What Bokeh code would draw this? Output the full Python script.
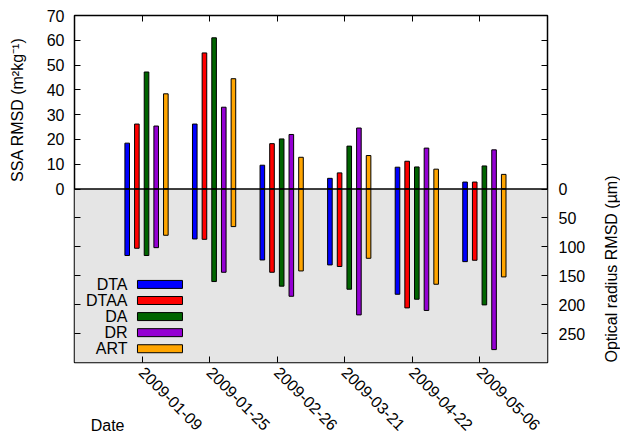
import numpy as np
from bokeh.plotting import figure
from bokeh.models import (Range1d, LinearAxis, FixedTicker, CustomJSTickFormatter,
                          Span, ColumnDataSource)
from bokeh.core.properties import value
from bokeh.embed import file_html
from bokeh.resources import INLINE

# Retrieval dates and method names
dates = ["2009-01-09", "2009-01-25", "2009-02-26", "2009-03-21", "2009-04-22", "2009-05-06"]
methods = ["DTA", "DTAA", "DA", "DR", "ART"]
colors = ["#0000ff", "#ff0000", "#006400", "#9400d3", "#ffa500"]

# SSA RMSD (m2 kg-1), one list per method
ssa_dta = [18.5, 26.2, 9.6, 4.3, 8.8, 2.8]
ssa_dtaa = [26.2, 54.9, 18.3, 6.5, 11.2, 2.8]
ssa_da = [47.2, 61.0, 20.2, 17.3, 8.9, 9.3]
ssa_dr = [25.4, 33.0, 22.0, 24.6, 16.5, 15.8]
ssa_art = [38.4, 44.5, 12.8, 13.5, 8.0, 5.9]

# Optical radius RMSD (um), one list per method
rad_dta = [115.0, 86.4, 122.7, 131.3, 182.0, 125.6]
rad_dtaa = [102.5, 87.0, 144.0, 134.0, 205.6, 123.2]
rad_da = [115.0, 160.0, 168.0, 173.3, 190.6, 200.4]
rad_dr = [101.4, 144.0, 185.5, 217.7, 210.0, 277.7]
rad_art = [80.0, 65.0, 141.7, 119.8, 164.7, 152.0]

ssa_all = [ssa_dta, ssa_dtaa, ssa_da, ssa_dr, ssa_art]
rad_all = [rad_dta, rad_dtaa, rad_da, rad_dr, rad_art]

SSA_MAX = 70
RAD_MAX = 300
FONT = "Liberation Sans"
FS = "16px"

p = figure(frame_width=473, frame_height=347, output_backend="svg", toolbar_location=None,
           x_range=Range1d(0, len(dates) + 1), y_range=Range1d(-SSA_MAX, SSA_MAX),
           min_border_left=74, min_border_right=0, min_border_top=15, min_border_bottom=75)
p.extra_y_ranges = {"radius": Range1d(RAD_MAX, -RAD_MAX)}
p.xgrid.visible = False
p.ygrid.visible = False
p.outline_line_color = "black"
p.outline_line_width = 1.5
p.background_fill_color = "white"
p.border_fill_color = "white"

# shaded lower half for the radius panel
p.quad(left=[0], right=[len(dates) + 1], bottom=[0], top=[RAD_MAX],
       y_range_name="radius", fill_color="#e5e5e5", line_color=None)

xpos = np.arange(1, len(dates) + 1)
step = 0.143
first = -0.22
bar_w = 0.068
for k, (name, col) in enumerate(zip(methods, colors)):
    src = ColumnDataSource(dict(x=xpos + first + k * step, ssa=ssa_all[k], rad=rad_all[k]))
    p.vbar(x="x", top="ssa", bottom=0, width=bar_w, source=src,
           fill_color=col, line_color="black", line_width=1)
    p.vbar(x="x", top=0, bottom="rad", width=bar_w, source=src, y_range_name="radius",
           fill_color=col, line_color="black", line_width=1)

p.add_layout(Span(location=0, dimension="width", line_color="black", line_width=1.5))

# legend drawn label-first
LEG_TX = 0.785
LEG_X0, LEG_X1 = 0.932, 1.598
LEG_Y0, LEG_DY, LEG_H = 165.0, 27.8, 13.8
leg_y = [LEG_Y0 + i * LEG_DY for i in range(len(methods))]
p.text(x=[LEG_TX] * len(methods), y=leg_y, text=methods, y_range_name="radius",
       text_align="right", text_baseline="middle", text_font=value(FONT),
       text_font_size=FS, text_color="black")
p.quad(left=LEG_X0, right=LEG_X1, bottom=[y + LEG_H / 2 for y in leg_y],
       top=[y - LEG_H / 2 for y in leg_y], y_range_name="radius",
       fill_color=colors, line_color="black", line_width=1)

def style(ax):
    ax.axis_line_color = None
    ax.major_tick_in = 6
    ax.major_tick_out = 0
    ax.minor_tick_in = 0
    ax.minor_tick_out = 0
    ax.major_tick_line_color = "black"
    ax.major_tick_line_width = 1
    ax.major_label_text_font = FONT
    ax.major_label_text_font_size = FS
    ax.major_label_text_color = "black"

def title_axis(ax, text, at, standoff, orientation):
    # an axis whose single tick label serves as the axis title
    style(ax)
    ax.ticker = FixedTicker(ticks=[at])
    ax.formatter = CustomJSTickFormatter(code="return %r;" % text)
    ax.major_tick_in = 0
    ax.major_tick_line_color = None
    ax.major_label_standoff = standoff
    ax.major_label_orientation = orientation

ssa_ticks = list(range(0, SSA_MAX + 1, 10))
rad_ticks = list(range(0, RAD_MAX, 50))
blank_neg = "return tick < -1e-6 ? '' : tick.toFixed(0);"

# left axis: SSA labels on top half, bare ticks on lower half
yl = p.yaxis[0]
style(yl)
yl.ticker = FixedTicker(ticks=ssa_ticks + [-r * SSA_MAX / RAD_MAX for r in rad_ticks[1:]])
yl.formatter = CustomJSTickFormatter(code=blank_neg)
yl.major_label_standoff = 10

yl_title = LinearAxis()
title_axis(yl_title, "SSA RMSD (m\u00b2kg\u207b\u00b9)", 32, 17, "vertical")
p.add_layout(yl_title, "left")

# right axis: radius labels on lower half, bare ticks on upper half
yr = LinearAxis(y_range_name="radius")
style(yr)
yr.ticker = FixedTicker(ticks=rad_ticks + [-s * RAD_MAX / SSA_MAX for s in ssa_ticks[1:-1]])
yr.formatter = CustomJSTickFormatter(code=blank_neg)
yr.major_label_standoff = 11
p.add_layout(yr, "right")

yr_title = LinearAxis(y_range_name="radius")
title_axis(yr_title, "Optical radius RMSD (\u00b5m)", RAD_MAX, 23, np.pi / 2)
p.add_layout(yr_title, "right")

# bottom axis with rotated dates
xb = p.xaxis[0]
style(xb)
xb.ticker = FixedTicker(ticks=list(xpos))
xb.major_label_overrides = {int(i): d for i, d in zip(xpos, dates)}
xb.major_label_orientation = -np.pi / 4
xb.major_label_standoff = 7

xb_title = LinearAxis()
title_axis(xb_title, "Date", 0.49, -22, "horizontal")
p.add_layout(xb_title, "below")

# top border ticks
xt = LinearAxis()
style(xt)
xt.ticker = FixedTicker(ticks=list(xpos))
xt.formatter = CustomJSTickFormatter(code="return '';")
xt.major_label_text_font_size = "0px"
xt.major_label_standoff = 0
p.add_layout(xt, "above")

open("out.html", "w").write(file_html(p, INLINE))
